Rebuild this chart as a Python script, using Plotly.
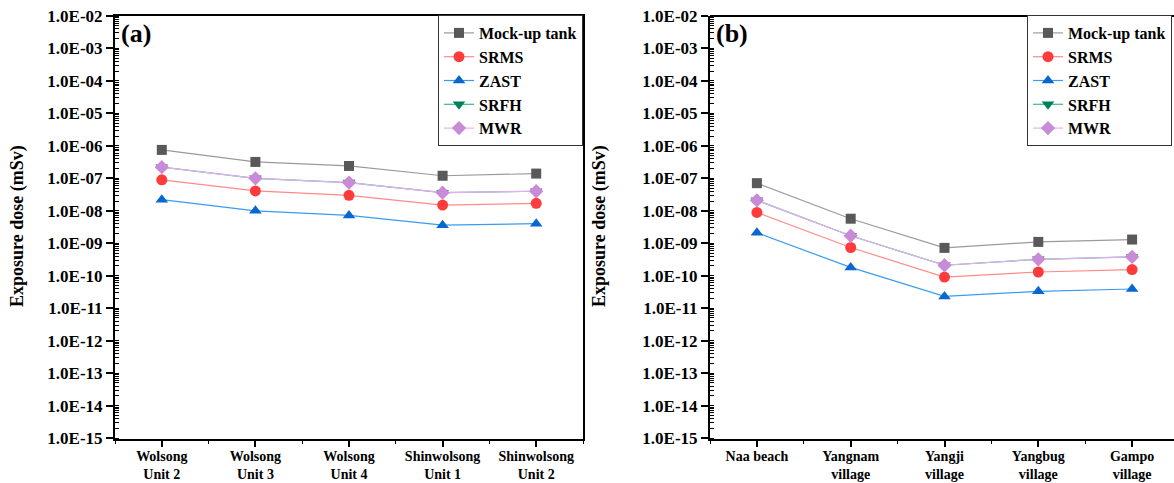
import plotly.graph_objects as go

# ---------------- data ----------------
sites_a = ["Wolsong<br>Unit 2", "Wolsong<br>Unit 3", "Wolsong<br>Unit 4",
           "Shinwolsong<br>Unit 1", "Shinwolsong<br>Unit 2"]
sites_b = ["Naa beach", "Yangnam<br>village", "Yangji<br>village",
           "Yangbug<br>village", "Gampo<br>village"]

series_names = ["Mock-up tank", "SRMS", "ZAST", "SRFH", "MWR"]

mock_a = [7.5e-7, 3.2e-7, 2.4e-7, 1.2e-7, 1.4e-7]
srms_a = [9.0e-8, 4.1e-8, 3.0e-8, 1.5e-8, 1.7e-8]
zast_a = [2.2e-8, 1.0e-8, 7.2e-9, 3.6e-9, 4.0e-9]
srfh_a = [2.2e-7, 1.0e-7, 7.4e-8, 3.6e-8, 4.0e-8]
mwr_a = [2.2e-7, 1.0e-7, 7.4e-8, 3.6e-8, 4.0e-8]

mock_b = [7.1e-8, 5.7e-9, 7.2e-10, 1.1e-9, 1.3e-9]
srms_b = [8.9e-9, 7.4e-10, 9.1e-11, 1.3e-10, 1.55e-10]
zast_b = [2.1e-9, 1.8e-10, 2.3e-11, 3.3e-11, 3.9e-11]
srfh_b = [2.1e-8, 1.7e-9, 2.1e-10, 3.2e-10, 3.8e-10]
mwr_b = [2.1e-8, 1.7e-9, 2.1e-10, 3.2e-10, 3.8e-10]

y_exponents = list(range(-2, -16, -1))
y_ticktext = ["1.0E-%02d" % (-e) for e in y_exponents]
y_tickvals = [10.0 ** e for e in y_exponents]

# ---------------- style ----------------
SERIF = "Liberation Serif, Times New Roman, serif"
marker_symbols = ["square", "circle", "triangle-up", "triangle-down", "diamond"]
marker_colors = ["#595959", "#ff3b3b", "#0a66d0", "#00805a", "#c98ad8"]
line_colors = ["#9a9a9a", "#ff8a8a", "#3a9cf0", "#3cb88a", "#e8aef2"]
marker_sizes = [10, 11, 11, 11, 11]

fig = go.Figure()

data_a = [mock_a, srms_a, zast_a, srfh_a, mwr_a]
data_b = [mock_b, srms_b, zast_b, srfh_b, mwr_b]

for i, name in enumerate(series_names):
    fig.add_trace(go.Scatter(
        x=list(range(len(sites_a))), y=data_a[i], name=name,
        mode="lines+markers", xaxis="x", yaxis="y", legend="legend",
        line=dict(color=line_colors[i], width=1.2),
        marker=dict(symbol=marker_symbols[i], color=marker_colors[i],
                    size=marker_sizes[i], line=dict(width=0)),
    ))
for i, name in enumerate(series_names):
    fig.add_trace(go.Scatter(
        x=list(range(len(sites_b))), y=data_b[i], name=name,
        mode="lines+markers", xaxis="x2", yaxis="y2", legend="legend2",
        line=dict(color=line_colors[i], width=1.2),
        marker=dict(symbol=marker_symbols[i], color=marker_colors[i],
                    size=marker_sizes[i], line=dict(width=0)),
    ))

W, H = 1174, 483
top_px, bot_px = 16, 439
ydom = [1 - bot_px / H, 1 - top_px / H]

tickfont = dict(family=SERIF, size=17, color="black", weight="bold")
xtickfont = dict(family=SERIF, size=14, color="black", weight="bold")

def yaxis_cfg(anchor, mirror):
    return dict(
        type="log", range=[-15.03, -2], domain=ydom, anchor=anchor,
        tickmode="array", tickvals=y_tickvals, ticktext=y_ticktext,
        tickfont=tickfont, ticks="outside", ticklen=7, tickwidth=1.5,
        tickcolor="black", showline=True, linecolor="black", linewidth=2,
        mirror=mirror, showgrid=False, zeroline=False,
        minor=dict(dtick="D1", ticks="inside", ticklen=4, tickwidth=1,
                   tickcolor="black", showgrid=False),
    )

def xaxis_cfg(anchor, dom, rng, labels, mirror, standoff):
    return dict(
        domain=dom, anchor=anchor, range=rng,
        tickmode="array", tickvals=list(range(len(labels))), ticktext=labels,
        tickfont=xtickfont, ticks="outside", ticklen=6, tickwidth=1.5,
        tickcolor="black", showline=True, linecolor="black", linewidth=2,
        mirror=mirror, showgrid=False, zeroline=False,
        ticklabelstandoff=standoff,
        minor=dict(tickvals=[k - 0.5 for k in range(len(labels) + 1)],
                   ticks="outside", ticklen=3, tickwidth=1.2,
                   tickcolor="black", showgrid=False),
    )

xa_left, xa_right = 115, 583
xb_left = 710
xb_end = -0.5 + (W - xb_left) / 93.8

legend_font = dict(family=SERIF, size=16, color="black", weight="bold")

fig.update_layout(
    width=W, height=H,
    margin=dict(l=0, r=0, t=0, b=0, autoexpand=False),
    paper_bgcolor="white", plot_bgcolor="white",
    font=dict(family=SERIF),
    xaxis=xaxis_cfg("y", [xa_left / W, xa_right / W], [-0.5, 4.5], sites_a, True, -3),
    yaxis=yaxis_cfg("x", True),
    xaxis2=xaxis_cfg("y2", [xb_left / W, 1.0], [-0.5, xb_end], sites_b, False, -3),
    yaxis2=yaxis_cfg("x2", False),
    legend=dict(x=xa_right / W, y=1 - 15 / H, xanchor="right", yanchor="top",
                bgcolor="white", bordercolor="#333333", borderwidth=1,
                font=legend_font, itemwidth=30, tracegroupgap=0),
    legend2=dict(x=1027 / W, y=1 - 15 / H, xanchor="left", yanchor="top",
                 bgcolor="white", bordercolor="#333333", borderwidth=1,
                 font=legend_font, itemwidth=30, tracegroupgap=0),
    showlegend=True,
)

# top border of panel (b) (right edge is outside the view)
fig.add_shape(type="line", xref="x2 domain", yref="y2 domain",
              x0=0, x1=1, y0=1, y1=1, line=dict(color="black", width=2))

title_font = dict(family=SERIF, size=18, color="black", weight="bold")
for xc in [18, 600]:
    fig.add_annotation(text="Exposure dose (mSv)", xref="paper", yref="paper",
                       x=xc / W, y=1 - 226 / H, textangle=-90, showarrow=False,
                       font=title_font, xanchor="center", yanchor="middle")

fig.add_annotation(text="(a)", xref="paper", yref="paper", x=119 / W, y=1 - 33 / H,
                   showarrow=False, xanchor="left", yanchor="middle",
                   font=dict(family=SERIF, size=26, color="black", weight="bold"))
fig.add_annotation(text="(b)", xref="paper", yref="paper", x=714 / W, y=1 - 33 / H,
                   showarrow=False, xanchor="left", yanchor="middle",
                   font=dict(family=SERIF, size=26, color="black", weight="bold"))

fig.write_html("out.html", config={"displayModeBar": False},
               post_script="document.body.style.margin='0';document.body.style.overflow='hidden';")
